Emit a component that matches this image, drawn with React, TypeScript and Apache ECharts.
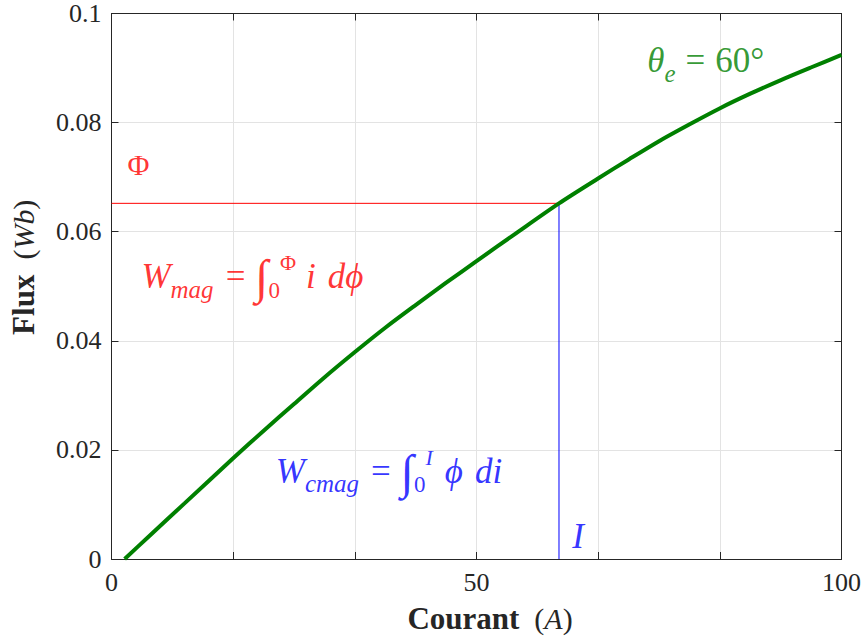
import React, { useEffect, useRef } from "react";
import * as echarts from "echarts";

// ---- data ----
const currentA = [1.8, 5, 10, 16.7, 21, 25, 29, 33.3, 37.5, 41.7, 45.8, 50, 55.5, 61.3, 66.7, 70.8, 75, 79.2, 83.3, 87.5, 91.7, 95.8, 100];
const fluxWb = [0, 0.004, 0.0102, 0.0185, 0.0237, 0.0284, 0.0331, 0.0379, 0.0424, 0.0466, 0.0506, 0.0546, 0.0598, 0.0652, 0.0698, 0.0732, 0.0766, 0.0797, 0.0826, 0.0853, 0.0878, 0.0901, 0.0924];
const operatingCurrent = 61.3;
const operatingFlux = 0.0652;
const xLabelValues = [0, 50, 100];
const yTickValues = [0, 0.02, 0.04, 0.06, 0.08, 0.1];
const yTickLabels = ["0", "0.02", "0.04", "0.06", "0.08", "0.1"];

const FONT = "Liberation Serif";
const AXIS_COLOR = "#262626";
const GRID_COLOR = "#e3e3e3";
const RED = "#ff0000";
const BLUE = "#0000ff";
const GREEN = "#008000";

const gap = (w: number) => ({ width: w, fontSize: 10, lineHeight: 50 });

const mathRich = (color: string) => ({
  m: { fontFamily: FONT, fontStyle: "italic", fontSize: 35, lineHeight: 50, color },
  r: { fontFamily: FONT, fontSize: 35, lineHeight: 50, color },
  big: { fontFamily: FONT, fontSize: 30, lineHeight: 50, color },
  int: { fontFamily: FONT, fontSize: 48, lineHeight: 50, color },
  sub: { fontFamily: FONT, fontStyle: "italic", fontSize: 25, lineHeight: 30, verticalAlign: "bottom", color },
  subr: { fontFamily: FONT, fontSize: 23, lineHeight: 24, verticalAlign: "bottom", color },
  sup: { fontFamily: FONT, fontStyle: "italic", fontSize: 22, lineHeight: 10, verticalAlign: "top", color },
  supr: { fontFamily: FONT, fontSize: 22, lineHeight: 10, verticalAlign: "top", color },
  s4: gap(4),
  s6: gap(6),
  s10: gap(10),
  s12: gap(12),
  s14: gap(14),
});

type Note = { coord: [number, number]; text: string; color: string; centered?: boolean };
const notes: Note[] = [
  { coord: [3.7, 0.0724], text: "{big|Φ}", color: RED, centered: true },
  { coord: [4.1, 0.0517], text: "{m|W}{sub|mag}{s12| }{r|=}{s10| }{int|∫}{subr|0}{supr|Φ}{s10| }{m|i}{s12| }{m|dϕ}", color: RED },
  { coord: [22.5, 0.0161], text: "{m|W}{sub|cmag}{s12| }{r|=}{s10| }{int|∫}{subr|0}{sup|I}{s12| }{m|ϕ}{s12| }{m|di}", color: BLUE },
  { coord: [63.9, 0.0042], text: "{m|I}", color: BLUE, centered: true },
  { coord: [73.4, 0.0913], text: "{m|θ}{sub|e}{s10| }{r|=}{s10| }{r|60°}", color: GREEN },
];

export default function App() {
  const ref = useRef<HTMLDivElement>(null);
  useEffect(() => {
    if (!ref.current) return;
    const chart = echarts.init(ref.current, undefined, { renderer: "svg" });
    const xFmt = (v: number) => (xLabelValues.some((t) => Math.abs(t - v) < 1e-6) ? String(Math.round(v)) : "");
    const yFmt = (v: number) => {
      const i = yTickValues.findIndex((t) => Math.abs(t - v) < 1e-9);
      return i >= 0 ? yTickLabels[i] : "";
    };
    const tickStyle = { inside: true, length: 7, lineStyle: { color: AXIS_COLOR, width: 1 } };
    const lineStyle = { onZero: false, lineStyle: { color: AXIS_COLOR, width: 1 } };
    const labelStyle = { fontFamily: FONT, fontSize: 26, color: AXIS_COLOR };
    const nameRich = {
      b: { fontFamily: FONT, fontWeight: "bold", fontSize: 31, lineHeight: 30, color: AXIS_COLOR },
      r: { fontFamily: FONT, fontSize: 30, lineHeight: 30, color: AXIS_COLOR },
      i: { fontFamily: FONT, fontStyle: "italic", fontSize: 30, lineHeight: 30, color: AXIS_COLOR },
    };
    chart.setOption({
      animation: false,
      backgroundColor: "#ffffff",
      grid: { left: 111, top: 13.5, width: 731, height: 545.5, containLabel: false },
      xAxis: [
        {
          type: "value", position: "bottom", min: 0, max: 100, interval: 100 / 6,
          axisLine: lineStyle, axisTick: tickStyle,
          axisLabel: { ...labelStyle, margin: 10, formatter: xFmt, showMaxLabel: true, showMinLabel: true },
          splitLine: { show: true, lineStyle: { color: GRID_COLOR, width: 1 } },
          name: "{b|Courant}{r|  (}{i|A}{r|)}", nameLocation: "middle", nameGap: 44,
          nameTextStyle: { rich: nameRich, padding: [0, 0, 0, 27] },
        },
        {
          type: "value", position: "top", min: 0, max: 100, interval: 100 / 6,
          axisLine: lineStyle, axisTick: tickStyle, axisLabel: { show: false }, splitLine: { show: false },
        },
      ],
      yAxis: [
        {
          type: "value", position: "left", min: 0, max: 0.1, interval: 0.02,
          axisLine: lineStyle, axisTick: tickStyle,
          axisLabel: { ...labelStyle, margin: 10, formatter: yFmt, showMaxLabel: true },
          splitLine: { show: true, lineStyle: { color: GRID_COLOR, width: 1 } },
          name: "{b|Flux}{r|  (}{i|Wb}{r|)}", nameLocation: "middle", nameGap: 73, nameRotate: 90,
          nameTextStyle: { rich: nameRich, padding: [0, 0, 0, 38] },
        },
        {
          type: "value", position: "right", min: 0, max: 0.1, interval: 0.02,
          axisLine: lineStyle, axisTick: tickStyle, axisLabel: { show: false }, splitLine: { show: false },
        },
      ],
      series: [
        {
          type: "line", xAxisIndex: 0, yAxisIndex: 0, symbol: "none", silent: true, z: 2,
          data: [[0, operatingFlux], [operatingCurrent, operatingFlux]],
          lineStyle: { color: RED, width: 1 },
        },
        {
          type: "line", xAxisIndex: 0, yAxisIndex: 0, symbol: "none", silent: true, z: 2,
          data: [[operatingCurrent, 0], [operatingCurrent, operatingFlux]],
          lineStyle: { color: BLUE, width: 1 },
        },
        {
          type: "line", xAxisIndex: 0, yAxisIndex: 0, symbol: "none", silent: true, z: 3,
          smooth: 0.3,
          data: currentA.map((x, i) => [x, fluxWb[i]]),
          lineStyle: { color: GREEN, width: 4 },
        },
        {
          type: "scatter", xAxisIndex: 0, yAxisIndex: 0, symbolSize: 0, silent: true, z: 4,
          data: notes.map((n) => ({
            value: n.coord,
            label: {
              show: true,
              position: n.centered ? "inside" : "right",
              distance: 0,
              formatter: n.text,
              rich: mathRich(n.color),
            },
          })),
        },
      ],
    });
    return () => chart.dispose();
  }, []);
  return (
    <div
      ref={ref}
      style={{ position: "fixed", left: 0, top: 0, width: 864, height: 639, background: "#fff" }}
    />
  );
}
